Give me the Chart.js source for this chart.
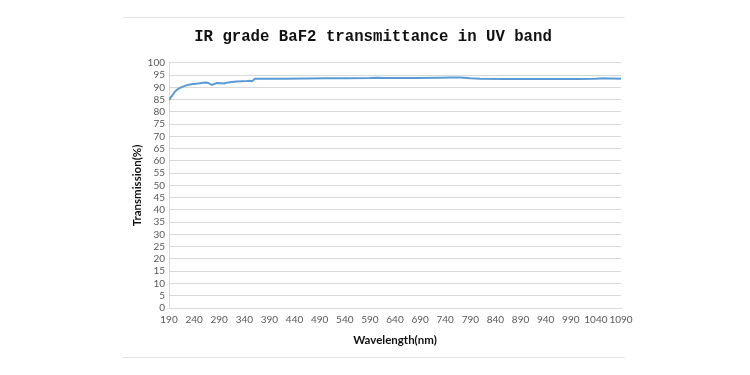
<!DOCTYPE html>
<html lang="en">
<head>
    <meta charset="UTF-8">
    <title>IR grade BaF2 transmittance in UV band</title>
    <style>
        html, body { margin: 0; padding: 0; background: #ffffff; }
        #wrap { width: 750px; height: 375px; }
    </style>
</head>
<body>
    <div id="wrap"><canvas id="chart" width="750" height="375"></canvas></div>
    <script src="https://cdn.jsdelivr.net/npm/chart.js"></script>
    <script>
        // values
        const wavelengths = [190, 193, 197, 202, 207, 212, 219, 226, 232, 238, 248, 258, 264, 268, 272, 276, 281, 286, 295, 300,
            305, 315, 325, 335, 345, 351, 355, 357, 361, 380, 420, 460, 500, 540, 590, 605, 620, 680, 730, 750,
            770, 790, 810, 860, 900, 950, 1000, 1040, 1055, 1070, 1090];
        const transmission = [84.8, 85.8, 86.8, 88.3, 89.2, 89.8, 90.4, 90.9, 91.2, 91.4, 91.6, 91.9, 92.0, 91.8, 91.3, 91.0, 91.5, 91.8, 91.7, 91.6,
            91.9, 92.2, 92.4, 92.5, 92.6, 92.7, 92.5, 92.7, 93.5, 93.5, 93.5, 93.6, 93.7, 93.7, 93.8, 93.9, 93.8, 93.8, 93.9, 94.0,
            94.0, 93.7, 93.5, 93.4, 93.4, 93.4, 93.4, 93.5, 93.7, 93.6, 93.5];
        const xTicks = [190, 240, 290, 340, 390, 440, 490, 540, 590, 640, 690, 740, 790, 840, 890, 940, 990, 1040, 1090];
        const yTicks = [0, 5, 10, 15, 20, 25, 30, 35, 40, 45, 50, 55, 60, 65, 70, 75, 80, 85, 90, 95, 100];

        const points = wavelengths.map((w, i) => ({ x: w, y: transmission[i] }));

        // thin rules above and below the chart, like the source image
        const frameLines = {
            id: "frameLines",
            afterDraw(chart) {
                const ctx = chart.ctx;
                ctx.save();
                ctx.strokeStyle = "#e3e3e3";
                ctx.lineWidth = 1;
                ctx.beginPath();
                ctx.moveTo(123, 17.5);
                ctx.lineTo(625, 17.5);
                ctx.moveTo(123, 357.5);
                ctx.lineTo(625, 357.5);
                ctx.stroke();
                ctx.restore();
            }
        };

        const tickFont = { family: "Lato", size: 10 };

        new Chart(document.getElementById("chart").getContext("2d"), {
            type: "line",
            data: {
                datasets: [{
                    data: points,
                    borderColor: "#5b9bd5",
                    borderWidth: 2,
                    pointRadius: 0,
                    fill: false,
                    tension: 0
                }]
            },
            options: {
                responsive: false,
                animation: false,
                layout: { padding: { left: 125, right: 129, top: 0, bottom: 0 } },
                plugins: {
                    legend: { display: false },
                    tooltip: { enabled: false },
                    title: {
                        display: true,
                        text: "IR grade BaF2 transmittance in UV band",
                        color: "#111111",
                        font: { family: "Liberation Mono", size: 15.7, weight: "bold" },
                        padding: { top: 28, bottom: 16 }
                    }
                },
                scales: {
                    x: {
                        type: "linear",
                        min: 190,
                        max: 1090,
                        afterBuildTicks: (scale) => { scale.ticks = xTicks.map(v => ({ value: v })); },
                        afterFit: (scale) => { scale.height = 67; },
                        grid: { display: false, drawTicks: false },
                        border: { color: "#d9d9d9" },
                        ticks: {
                            autoSkip: false, maxRotation: 0, padding: 6, color: "#595959", font: tickFont,
                            callback: (v) => String(v)
                        },
                        title: {
                            display: true,
                            text: "Wavelength(nm)",
                            color: "#111111",
                            font: { family: "Lato", size: 11.5, weight: "bold" },
                            padding: { top: 0, bottom: 28 }
                        }
                    },
                    y: {
                        min: 0,
                        max: 100,
                        afterBuildTicks: (scale) => { scale.ticks = yTicks.map(v => ({ value: v })); },
                        afterFit: (scale) => { scale.width = 44; },
                        grid: { color: "#d9d9d9", drawTicks: false },
                        border: { color: "#d9d9d9" },
                        ticks: { autoSkip: false, padding: 4, color: "#595959", font: tickFont },
                        title: {
                            display: true,
                            text: "Transmission(%)",
                            color: "#111111",
                            font: { family: "Lato", size: 11.5, weight: "bold" },
                            padding: { top: 5, bottom: 0 }
                        }
                    }
                }
            },
            plugins: [frameLines]
        });
    </script>
</body>
</html>
